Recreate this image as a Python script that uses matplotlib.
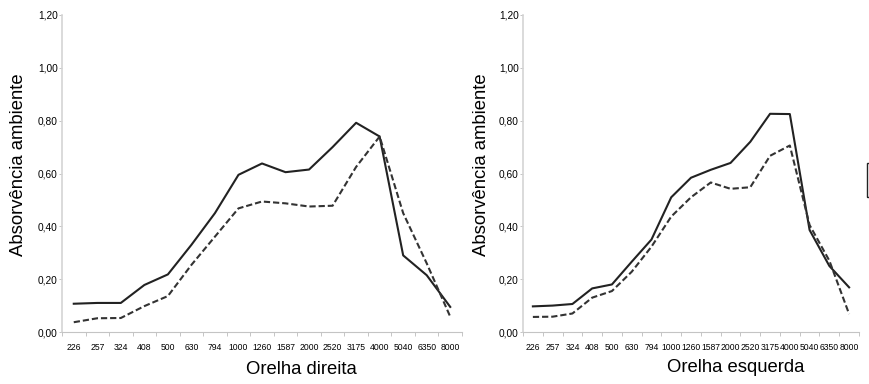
import numpy as np
import matplotlib
matplotlib.use("Agg")
import matplotlib.pyplot as plt
from matplotlib.patches import Rectangle
from matplotlib.ticker import FixedLocator, FuncFormatter

plt.rcParams["font.family"] = ["Liberation Sans", "DejaVu Sans"]

freqs = ["226", "257", "324", "408", "500", "630", "794", "1000", "1260", "1587",
         "2000", "2520", "3175", "4000", "5040", "6350", "8000"]

# orelha direita
right_solid = [0.107, 0.11, 0.11, 0.178, 0.218, 0.33, 0.45, 0.595, 0.638, 0.605,
               0.615, 0.70, 0.792, 0.74, 0.29, 0.215, 0.095]
right_dashed = [0.037, 0.052, 0.053, 0.098, 0.136, 0.254, 0.361, 0.468, 0.494, 0.487,
                0.475, 0.478, 0.625, 0.74, 0.45, 0.26, 0.058]

# orelha esquerda
left_solid = [0.097, 0.10, 0.106, 0.165, 0.18, 0.266, 0.35, 0.51, 0.584, 0.614,
              0.64, 0.72, 0.826, 0.825, 0.386, 0.25, 0.169]
left_dashed = [0.057, 0.058, 0.07, 0.13, 0.155, 0.228, 0.323, 0.437, 0.51, 0.566,
               0.542, 0.548, 0.667, 0.706, 0.405, 0.27, 0.068]

y_ticks = [0.0, 0.2, 0.4, 0.6, 0.8, 1.0, 1.2]

W, H = 869, 384
fig = plt.figure(figsize=(W / 100, H / 100), dpi=100)

panels = [
    (right_solid, right_dashed, "Orelha direita", [62, 400], 301, 370, 19),
    (left_solid, left_dashed, "Orelha esquerda", [523, 336], 736, 367, 482),
]

for solid, dashed, title, (x0, w), title_x, title_y, ylab_x in panels:
    ax = fig.add_axes([x0 / W, (H - 332) / H, w / W, 317 / H])
    idx = np.arange(len(freqs))
    ax.plot(idx, solid, color="#222222", lw=1.5)
    ax.plot(idx, dashed, color="#333333", lw=1.5, dashes=(3, 1.4))
    ax.set_xlim(-0.5, len(freqs) - 0.5)
    ax.set_ylim(0, 1.2)

    ax.set_yticks(y_ticks)
    ax.yaxis.set_major_formatter(FuncFormatter(lambda v, p: f"{v:.2f}".replace(".", ",")))
    ax.tick_params(axis="y", labelsize=7.3, length=2, width=0.6, color="#bbbbbb", pad=1)

    ax.set_xticks(idx)
    ax.set_xticklabels(freqs)
    ax.xaxis.set_minor_locator(FixedLocator(np.arange(-0.5, len(freqs), 1.0)))
    ax.tick_params(axis="x", which="major", labelsize=6.2, length=0, pad=8)
    ax.tick_params(axis="x", which="minor", length=3, width=0.6, color="#bbbbbb")

    for s in ["top", "right"]:
        ax.spines[s].set_visible(False)
    ax.spines["left"].set_color("#d4d4d4")
    ax.spines["left"].set_linewidth(1.2)
    ax.spines["bottom"].set_color("#c4c4c4")
    ax.spines["bottom"].set_linewidth(0.8)

    fig.text(title_x / W, 1 - title_y / H, title, ha="center", va="center", fontsize=13.3)
    fig.text(ylab_x / W, 1 - 165 / H, "Absorvência ambiente", rotation=90,
             ha="center", va="center", fontsize=13.3)

# caixa de legenda cortada na borda direita
fig.add_artist(Rectangle((867 / W, 1 - 197 / H), 10 / W, 34 / H, fill=False,
                         lw=1, ec="#222222", transform=fig.transFigure, clip_on=False))

fig.savefig("out.png", dpi=100)
plt.close(fig)
